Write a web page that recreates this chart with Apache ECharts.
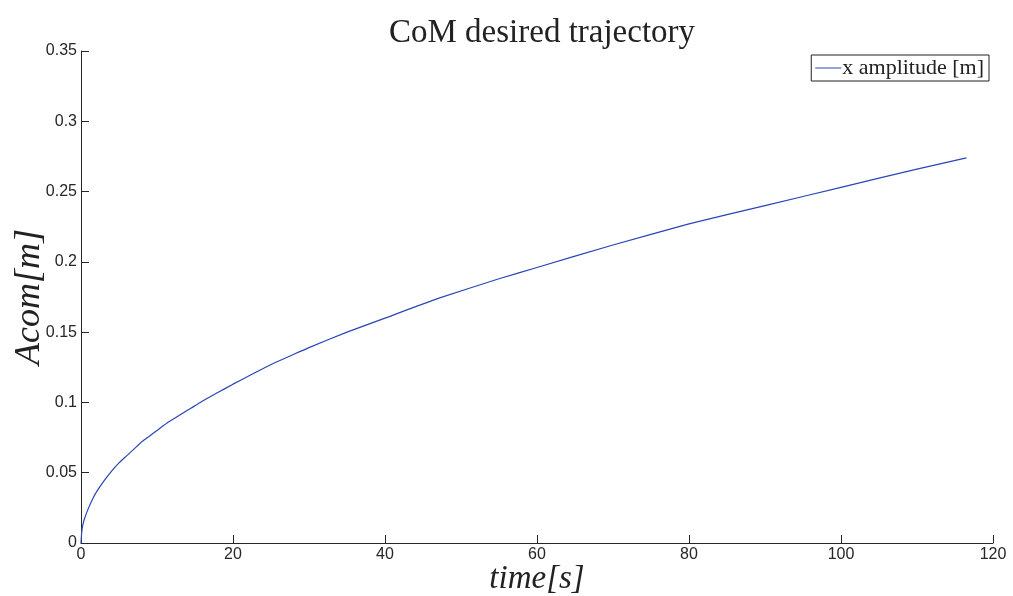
<!DOCTYPE html>
<html>
<head>
<meta charset="utf-8">
<script src="https://cdn.jsdelivr.net/npm/echarts@6/dist/echarts.min.js"></script>
<style>
  html, body { margin: 0; padding: 0; background: #fff; }
  #main { width: 1013px; height: 596px; }
</style>
</head>
<body>
<div id="main"></div>
<script>
// 时间 [s]
var timeData = [0, 0.1, 0.25, 0.5, 1, 1.5, 2, 3, 4, 5, 6, 7, 8, 9, 10, 11.5, 13, 14.5, 16, 18, 20, 22.5, 25, 27.5, 30, 35, 40, 47, 55, 60, 70, 80, 90, 100, 110, 116.5];
// x amplitude [m]
var ampData = [0, 0.008, 0.013, 0.018, 0.025, 0.031, 0.036, 0.044, 0.051, 0.057, 0.062, 0.067, 0.072, 0.076, 0.080, 0.086, 0.091, 0.096, 0.101, 0.107, 0.113, 0.120, 0.127, 0.133, 0.139, 0.150, 0.160, 0.174, 0.188, 0.196, 0.212, 0.227, 0.240, 0.253, 0.266, 0.274];
var seriesName = 'x amplitude [m]';

var points = timeData.map(function (t, i) { return [t, ampData[i]]; });

var axisColor = '#262626';
var chart = echarts.init(document.getElementById('main'));
chart.setOption({
  backgroundColor: '#fff',
  animation: false,
  title: {
    text: 'CoM desired trajectory',
    left: 384,
    top: 12,
    textStyle: { fontFamily: 'Liberation Serif', fontWeight: 'normal', fontSize: 33, color: '#222' }
  },
  legend: {
    data: [seriesName],
    right: 24,
    top: 55,
    icon: 'rect',
    itemWidth: 26,
    itemHeight: 1,
    itemGap: 4,
    padding: [2, 5, 2, 4],
    borderColor: '#222',
    borderWidth: 1,
    textStyle: { fontFamily: 'Liberation Serif', fontSize: 22, color: '#222', padding: [0, 0, 0, -4] }
  },
  grid: { left: 81, right: 20, top: 51, bottom: 53, outerBoundsMode: 'none', containLabel: false },
  xAxis: {
    type: 'value',
    min: 0, max: 120, interval: 20,
    name: 'time[s]',
    nameLocation: 'middle',
    nameMoveOverlap: false,
    nameGap: 20,
    nameTextStyle: { fontFamily: 'Liberation Serif', fontStyle: 'italic', fontSize: 33, color: '#222' },
    axisLine: { lineStyle: { color: axisColor } },
    axisTick: { inside: true, length: 8, lineStyle: { color: axisColor } },
    axisLabel: { fontFamily: 'Liberation Sans', fontSize: 16, color: axisColor, margin: 4 },
    splitLine: { show: false }
  },
  yAxis: {
    type: 'value',
    min: 0, max: 0.35, interval: 0.05,
    name: 'Acom[m]',
    nameLocation: 'middle',
    nameMoveOverlap: false,
    nameGap: 33,
    nameTextStyle: { fontFamily: 'Liberation Serif', fontStyle: 'italic', fontSize: 36, color: '#222' },
    axisLine: { show: true, lineStyle: { color: axisColor } },
    axisTick: { show: true, inside: true, length: 8, lineStyle: { color: axisColor } },
    axisLabel: { fontFamily: 'Liberation Sans', fontSize: 16, color: axisColor, margin: 4 },
    splitLine: { show: false }
  },
  series: [{
    name: seriesName,
    type: 'line',
    data: points,
    symbol: 'none',
    smooth: 0.15,
    lineStyle: { color: '#2b45b8', width: 1.2 },
    itemStyle: { color: '#2b45b8' }
  }]
});
</script>
</body>
</html>
